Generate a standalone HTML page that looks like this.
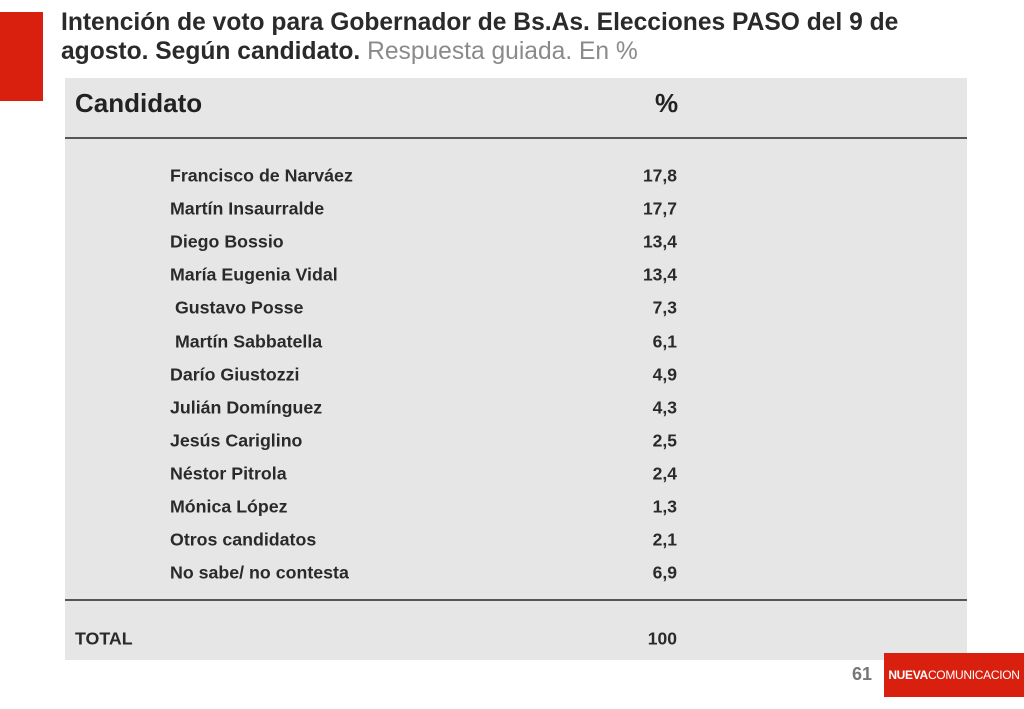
<!DOCTYPE html>
<html><head><meta charset="utf-8">
<style>
body{margin:0;width:1024px;height:709px;background:#fff;position:relative;overflow:hidden;font-family:"Liberation Sans",sans-serif;color:#222}
.a{position:absolute}
.nm{position:absolute;left:170px;font-size:17.8px;font-weight:bold;color:#2a2a2a;transform:translateY(-50%);white-space:pre}
.vl{position:absolute;right:347px;font-size:17.5px;font-weight:bold;color:#2a2a2a;transform:translateY(-50%)}
</style></head><body>
<div class="a" style="left:0;top:12px;width:43px;height:89px;background:#d9200f"></div>
<div class="a" style="left:61px;top:8px;width:900px;font-size:24.6px;font-weight:bold;line-height:29px;color:#2a2a2a">Intención de voto para Gobernador de Bs.As. Elecciones PASO del 9 de agosto. Según candidato. <span style="font-weight:normal;color:#8a8a8a">Respuesta guiada. En %</span></div>
<div class="a" style="left:65px;top:78px;width:902px;height:582px;background:#e6e6e6">
 <div class="a" style="left:10px;top:10px;font-size:26px;font-weight:bold">Candidato</div>
 <div class="a" style="left:590px;top:10px;font-size:26px;font-weight:bold">%</div>
 <div class="a" style="left:0;top:59px;width:902px;height:2px;background:#555"></div>
 <div class="a" style="left:0;top:521px;width:902px;height:2px;background:#555"></div>
</div>
<div id="rows"></div>
<div class="nm" style="left:75px;top:639px">TOTAL</div>
<div class="vl" style="top:639px">100</div>
<div class="a" style="left:852px;top:664px;font-size:18px;font-weight:bold;color:#777">61</div>
<div class="a" style="left:884px;top:653px;width:140px;height:44px;background:#d9200f;color:#fff;font-size:12px;line-height:44px;text-align:center;letter-spacing:-0.3px"><b>NUEVA</b>COMUNICACION</div>
<script>
const candidates=["Francisco de Narváez","Martín Insaurralde","Diego Bossio","María Eugenia Vidal"," Gustavo Posse"," Martín Sabbatella","Darío Giustozzi","Julián Domínguez","Jesús Cariglino","Néstor Pitrola","Mónica López","Otros candidatos","No sabe/ no contesta"];
const values=[17.8,17.7,13.4,13.4,7.3,6.1,4.9,4.3,2.5,2.4,1.3,2.1,6.9];
const rows=document.getElementById('rows');
candidates.forEach((c,i)=>{
 const y=176+i*33.1;
 const n=document.createElement('div');n.className='nm';n.style.top=y+'px';n.textContent=c;
 
 
 const v=document.createElement('div');v.className='vl';v.style.top=y+'px';v.textContent=values[i].toFixed(1).replace('.',',');
 
 
 rows.appendChild(n);rows.appendChild(v);
});
</script>
</body></html>
